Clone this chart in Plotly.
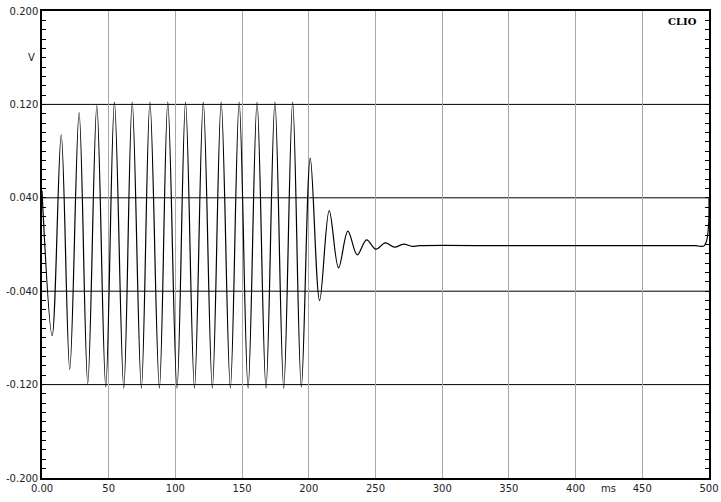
import plotly.graph_objects as go

# Waveform: extrema of the tone burst (time in ms, value in V)
t_ms = [0.0, 7.6, 14.4, 20.8, 27.8, 34.3, 41.1, 47.8, 54.3, 61.3, 67.6, 74.5,
        80.9, 88.0, 94.3, 101.2, 107.6, 114.3, 120.9, 127.7, 134.3, 141.2, 147.8,
        154.5, 161.2, 167.9, 174.6, 181.2, 187.9, 194.4, 201.1, 208.1, 215.3,
        222.3, 229.3, 236.3, 243.3, 250.3, 257.3, 264.3, 271.0, 277.5, 283.0,
        350.0, 420.0, 490.0, 496.5, 500.0]
volts = [0.046, -0.078, 0.094, -0.107, 0.113, -0.119, 0.119, -0.122, 0.122, -0.123,
         0.122, -0.123, 0.122, -0.123, 0.122, -0.123, 0.122, -0.123, 0.122, -0.123,
         0.122, -0.123, 0.122, -0.123, 0.122, -0.123, 0.122, -0.123, 0.122, -0.122,
         0.074, -0.048, 0.029, -0.020, 0.0114, -0.0089, 0.004, -0.004, 0.0014,
         -0.0023, 0.0004, -0.0016, -0.001, -0.001, -0.001, -0.001, -0.001, 0.040]

x_tick_vals = [0, 50, 100, 150, 200, 250, 300, 350, 400, 450, 500]
x_tick_text = ["0.00", "50", "100", "150", "200", "250", "300", "350", "400", "450", "500"]
y_tick_vals = [-0.2, -0.12, -0.04, 0.04, 0.12, 0.2]
y_tick_text = ["-0.200", "-0.120", "-0.040", "0.040", "0.120", "0.200"]
h_grid_vals = [-0.12, -0.04, 0.04, 0.12]
x_unit, x_unit_pos = "ms", 425
y_unit, y_unit_pos = "V", 0.16
brand = "CLIO"

FONT = "DejaVu Sans, Verdana, sans-serif"

fig = go.Figure(go.Scatter(
    x=t_ms, y=volts, mode="lines",
    line=dict(color="black", width=1.2, shape="spline", smoothing=1.0),
    hoverinfo="skip", showlegend=False, cliponaxis=False,
))

for v in h_grid_vals:
    fig.add_shape(type="line", xref="paper", x0=0, x1=1, yref="y", y0=v, y1=v,
                  line=dict(color="black", width=1), layer="between")

fig.add_annotation(text=y_unit, xref="paper", x=0, xanchor="right", xshift=-5,
                   yref="y", y=y_unit_pos, showarrow=False,
                   font=dict(family=FONT, size=10, color="#222"))
fig.add_annotation(text=x_unit, xref="x", x=x_unit_pos, yref="paper", y=0,
                   yanchor="top", yshift=-3, showarrow=False,
                   font=dict(family=FONT, size=10, color="#222"))
fig.add_annotation(text="<b>" + brand + "</b>", xref="paper", x=1, xanchor="right",
                   xshift=-10, yref="paper", y=1, yanchor="top", yshift=-3,
                   showarrow=False,
                   font=dict(family="DejaVu Serif, serif", size=10, color="black"))

fig.update_layout(
    width=721, height=502,
    margin=dict(l=42, r=12, t=11, b=24),
    paper_bgcolor="white", plot_bgcolor="white",
    xaxis=dict(range=[0, 500], tickmode="array", tickvals=x_tick_vals,
               ticktext=x_tick_text, showgrid=True, gridcolor="#a8a8a8",
               gridwidth=1, zeroline=False, showline=True, linecolor="black",
               linewidth=2, mirror=True, ticks="", automargin=False,
               tickfont=dict(family=FONT, size=10, color="#222")),
    yaxis=dict(range=[-0.2, 0.2], tickmode="array", tickvals=y_tick_vals,
               ticktext=y_tick_text, showgrid=False, zeroline=False,
               showline=True, linecolor="black", linewidth=1.5,
               mirror="allticks", ticks="inside", ticklen=4, tickcolor="black",
               automargin=False,
               minor=dict(tickmode="linear", tick0=-0.2, dtick=0.008,
                          ticks="inside", ticklen=4, tickcolor="black",
                          showgrid=False),
               tickfont=dict(family=FONT, size=10, color="#222")),
)

fig.write_html("out.html", config={"displayModeBar": False},
               post_script="document.body.style.margin='0';document.body.style.overflow='hidden';")
